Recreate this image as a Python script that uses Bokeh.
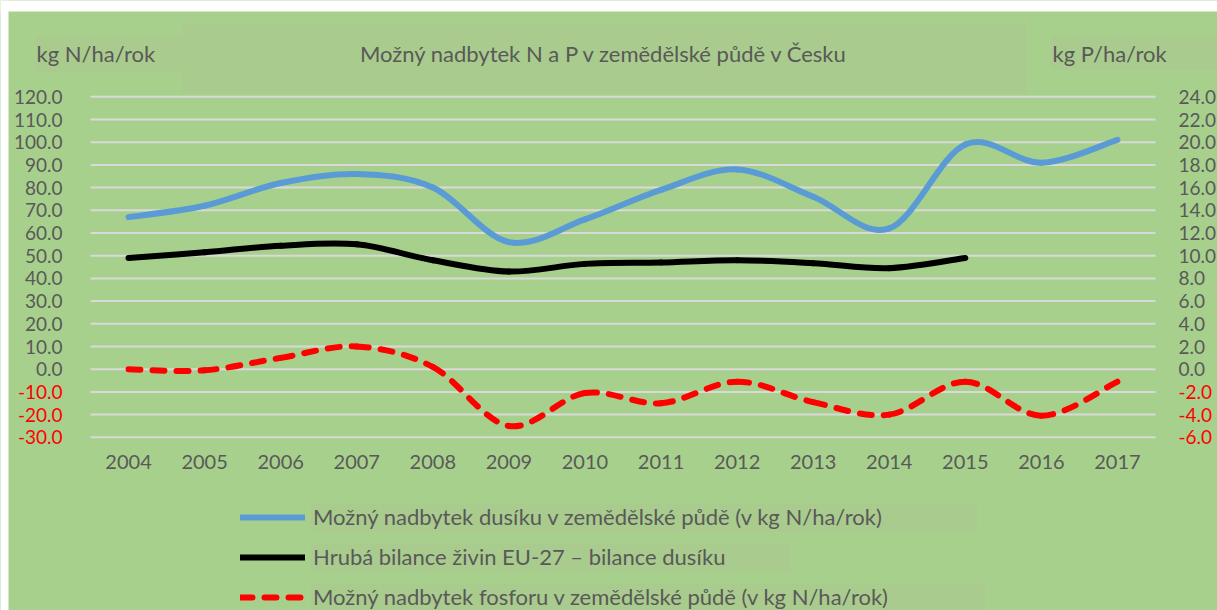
from bokeh.plotting import figure
from bokeh.models import (Range1d, LinearAxis, FixedTicker, NumeralTickFormatter,
                          Legend, LegendItem, Label, ColumnDataSource, CustomJSTickFormatter,
                          BoxAnnotation)
from bokeh.embed import file_html
from bokeh.resources import INLINE

# ---------------- data ----------------
years = [2004, 2005, 2006, 2007, 2008, 2009, 2010, 2011, 2012, 2013, 2014, 2015, 2016, 2017]
n_surplus = [67, 72, 82, 86, 80, 56, 66, 79, 88, 76, 62, 99, 91, 101]
gross_years = [2004, 2005, 2006, 2007, 2008, 2009, 2010, 2011, 2012, 2013, 2014, 2015]
gross_balance = [49, 51.5, 54.4, 55, 48, 43, 46.4, 47, 48, 46.7, 44.5, 49]
p_surplus = [0, -0.1, 1, 2, 0.2, -5, -2.1, -3, -1.1, -2.9, -4, -1.1, -4.1, -1.1]

left_ticks_pos = [0, 10, 20, 30, 40, 50, 60, 70, 80, 90, 100, 110, 120]
left_ticks_neg = [-10, -20, -30]
right_ticks_pos = [0, 2, 4, 6, 8, 10, 12, 14, 16, 18, 20, 22, 24]
right_ticks_neg = [-2, -4, -6]

title_text = "Možný nadbytek N a P v zemědělské půdě v Česku"
left_unit = "kg N/ha/rok"
right_unit = "kg P/ha/rok"
legend_labels = ["Možný nadbytek dusíku v zemědělské půdě (v kg N/ha/rok)",
                 "Hrubá bilance živin EU-27 – bilance dusíku",
                 "Možný nadbytek fosforu v zemědělské půdě (v kg N/ha/rok)"]

# ---------------- style / layout ----------------
BG = "#A8D08D"
BOX = "#A9CB8D"
GRID = "#D9D9D9"
TXT = "#595959"
RED = "#FF0000"
BLUE = "#5B9BD5"
FONT = "Lato"
W, H = 1217, 610
XMIN, XMAX = 2003.5, 2017.5          # category axis extent
YMIN, YMAX = -30, 120                # left value axis extent
PX_L, PX_R = 90, 1155                # plot-area pixels (page)
PY_T, PY_B = 96.3, 436.8
RATIO = 5.0                          # left axis / right axis


def px2x(px):
    return XMIN + (px - PX_L) * (XMAX - XMIN) / (PX_R - PX_L)


def py2y(py):
    return YMAX + (PY_T - py) * (YMAX - YMIN) / (PY_B - PY_T)


def smooth_segments(xs, ys):
    """Catmull-Rom style bezier control points (Excel-like smoothing)."""
    n = len(xs)
    x0, y0, x1, y1, cx0, cy0, cx1, cy1 = [], [], [], [], [], [], [], []
    for i in range(n - 1):
        pxm, pym = (xs[i - 1], ys[i - 1]) if i > 0 else (xs[i], ys[i])
        px0, py0 = xs[i], ys[i]
        px1, py1 = xs[i + 1], ys[i + 1]
        pxp, pyp = (xs[i + 2], ys[i + 2]) if i + 2 < n else (xs[i + 1], ys[i + 1])
        x0.append(px0); y0.append(py0); x1.append(px1); y1.append(py1)
        cx0.append(px0 + (px1 - pxm) / 6.0); cy0.append(py0 + (py1 - pym) / 6.0)
        cx1.append(px1 - (pxp - px0) / 6.0); cy1.append(py1 - (pyp - py0) / 6.0)
    return dict(x0=x0, y0=y0, x1=x1, y1=y1, cx0=cx0, cy0=cy0, cx1=cx1, cy1=cy1)


p = figure(width=W, height=H, output_backend="svg", toolbar_location=None,
           x_range=Range1d(px2x(0), px2x(W)), y_range=Range1d(py2y(H), py2y(0)),
           min_border=0)
p.extra_y_ranges = {"p": Range1d(py2y(H) / RATIO, py2y(0) / RATIO)}
p.background_fill_color = BG
p.border_fill_color = BG
p.outline_line_color = None
p.xgrid.visible = False
p.ygrid.visible = False

# page-like white strips and faint text boxes
p.add_layout(BoxAnnotation(left=px2x(0), right=px2x(W), bottom=py2y(11), top=py2y(0),
                           fill_color="white", fill_alpha=1, line_color=None, level="underlay"))
p.add_layout(BoxAnnotation(left=px2x(0), right=px2x(8), bottom=py2y(H), top=py2y(0),
                           fill_color="white", fill_alpha=1, line_color=None, level="underlay"))
for (l, r, t, b) in [(181, 1027, 22, 93), (35, 181, 35, 73), (1050, 1217, 35, 70),
                     (310, 977, 503, 532), (310, 790, 542, 572), (310, 985, 583, 610)]:
    p.add_layout(BoxAnnotation(left=px2x(l), right=px2x(r), top=py2y(t), bottom=py2y(b),
                               fill_color=BOX, fill_alpha=1, line_color=None, level="underlay"))

# horizontal gridlines limited to the plot area
grid_vals = left_ticks_neg + left_ticks_pos
p.segment(x0=[XMIN] * len(grid_vals), x1=[XMAX] * len(grid_vals), y0=grid_vals, y1=grid_vals,
          line_color=GRID, line_width=2)


def style_axis(ax, size, color=TXT, standoff=10):
    ax.axis_line_color = None
    ax.major_tick_line_color = None
    ax.minor_tick_line_color = None
    ax.major_tick_out = 0
    ax.major_tick_in = 0
    ax.major_label_text_font = FONT
    ax.major_label_text_font_size = size
    ax.major_label_text_color = color
    ax.major_label_standoff = standoff


# x axis (pinned to the bottom of the value axis)
xa = p.xaxis[0]
xa.ticker = FixedTicker(ticks=years)
xa.formatter = CustomJSTickFormatter(code="return tick.toFixed(0);")
xa.fixed_location = YMIN
style_axis(xa, "20px", standoff=18)

# left value axis: non-negative grey, negative red
ya = p.yaxis[0]
ya.ticker = FixedTicker(ticks=left_ticks_pos)
ya.formatter = NumeralTickFormatter(format="0.0")
ya.fixed_location = XMIN
style_axis(ya, "19px", standoff=28)
yn = LinearAxis(ticker=FixedTicker(ticks=left_ticks_neg), formatter=NumeralTickFormatter(format="0.0"),
                fixed_location=XMIN)
style_axis(yn, "19px", RED, standoff=28)
p.add_layout(yn, "left")

# right value axis (phosphorus)
ra = LinearAxis(y_range_name="p", ticker=FixedTicker(ticks=right_ticks_pos),
                formatter=NumeralTickFormatter(format="0.0"), fixed_location=XMAX)
style_axis(ra, "19px", standoff=23)
p.add_layout(ra, "right")
rn = LinearAxis(y_range_name="p", ticker=FixedTicker(ticks=right_ticks_neg),
                formatter=NumeralTickFormatter(format="0.0"), fixed_location=XMAX)
style_axis(rn, "19px", RED, standoff=23)
p.add_layout(rn, "right")

# series
bez = dict(x0="x0", y0="y0", x1="x1", y1="y1", cx0="cx0", cy0="cy0", cx1="cx1", cy1="cy1")
r_blue = p.bezier(source=ColumnDataSource(smooth_segments(years, n_surplus)), **bez,
                  line_color=BLUE, line_width=6, line_cap="round")
r_black = p.bezier(source=ColumnDataSource(smooth_segments(gross_years, gross_balance)), **bez,
                   line_color="#000000", line_width=6, line_cap="round")
r_red = p.bezier(source=ColumnDataSource(smooth_segments(years, p_surplus)), y_range_name="p", **bez,
                 line_color=RED, line_width=6, line_cap="round", line_dash="12 12")

# legend
legend = Legend(items=[LegendItem(label=legend_labels[0], renderers=[r_blue], index=0),
                       LegendItem(label=legend_labels[1], renderers=[r_black], index=0),
                       LegendItem(label=legend_labels[2], renderers=[r_red], index=0)],
                location=(240, 0), orientation="vertical",
                glyph_width=65, glyph_height=26, label_height=26, label_standoff=8,
                spacing=13, padding=0, margin=0,
                label_text_font=FONT, label_text_font_size="22px", label_text_color=TXT,
                background_fill_alpha=0, border_line_alpha=0)
p.add_layout(legend, "center")

# title and unit captions
for (lx, txt, al) in [(px2x(604), title_text, "center"), (px2x(36), left_unit, "left"),
                      (px2x(1052), right_unit, "left")]:
    p.add_layout(Label(x=lx, y=py2y(53), text=txt, text_align=al, text_baseline="middle",
                       text_font=FONT, text_font_size="22px", text_color=TXT))

open("out.html", "w").write(file_html(p, INLINE))
